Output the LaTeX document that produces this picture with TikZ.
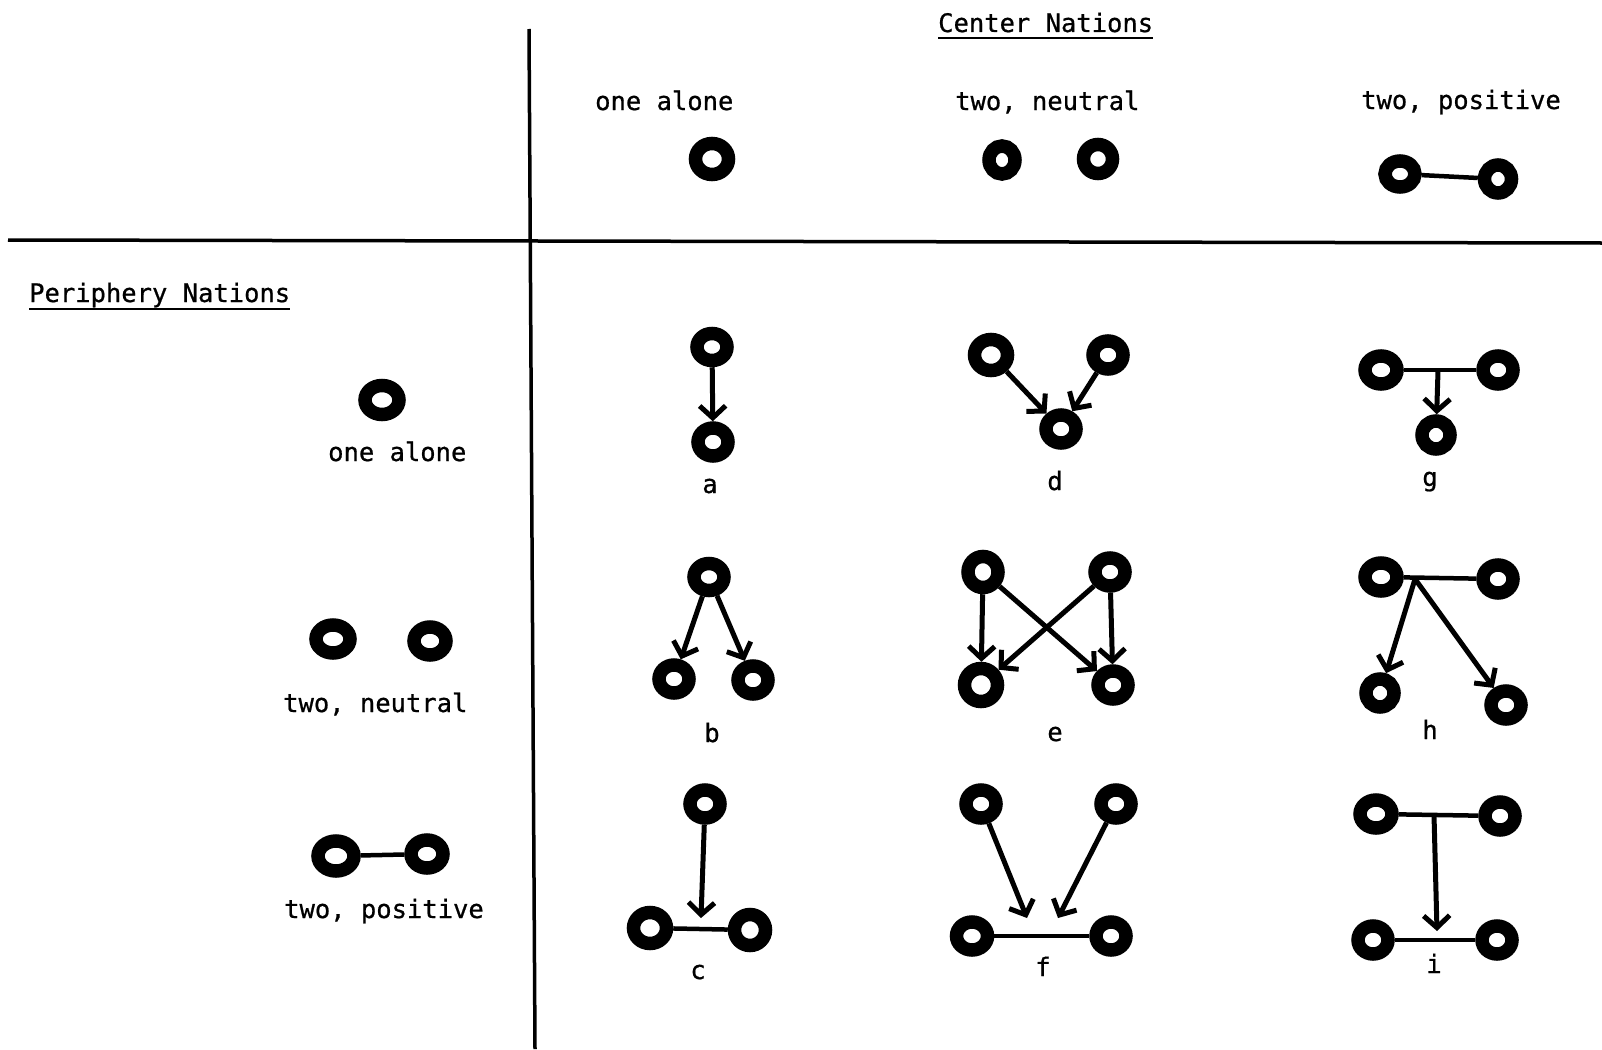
\documentclass[tikz,border=0pt]{standalone}
\usepackage{fontspec}
\setmainfont[FakeBold=0.7]{DejaVu Sans Mono}
\usetikzlibrary{arrows.meta,shapes.geometric,calc}
\begin{document}
\begin{tikzpicture}[x=1pt,y=-1pt,
  ring/.style={ellipse,draw,line width=13.5pt,minimum width=30pt,minimum height=28pt,inner sep=0pt},
  bigring/.style={ring,minimum width=33pt,minimum height=31pt},
  txt/.style={inner sep=0pt,font=\fontsize{25.5}{30}\selectfont},
  tie/.style={line width=4.5pt},
  uline/.style={line width=2.5pt},
  arr/.style={line width=5pt,-{Straight Barb[length=12pt,width=26pt]}},
  axis/.style={line width=3.5pt}]
\useasboundingbox[fill=white] (0,0) rectangle (1602,1049);

% axes
\coordinate (vt) at (529,29); \coordinate (vb) at (535,1049);
\coordinate (hl) at (8,240); \coordinate (hr) at (1602,243);
\draw[axis] (vt) -- (vb);
\draw[axis] (hl) -- (hr);

% column headers
\node[txt,anchor=base west] (cn) at (938,32) {Center Nations};
\draw[uline] ([yshift=-6pt]cn.base west) -- ([yshift=-6pt]cn.base east);
\node[txt,anchor=base west] (ht1) at (595,110) {one alone};
\node[txt,anchor=base west] (ht2) at (955,110) {two, neutral};
\node[txt,anchor=base west] (ht3) at (1361,109) {two, positive};
\node[bigring] (c1) at (712,159) {};
\node[ring,minimum width=26pt,minimum height=28pt] (c2a) at (1002,160) {};
\node[ring,minimum width=29pt,minimum height=29pt] (c2b) at (1098,159) {};
\node[ring,minimum height=26pt] (c3a) at (1400,174) {};
\node[ring,minimum width=27pt] (c3b) at (1498,179) {};
\draw[tie] (c3a) -- (c3b);

% row headers
\node[txt,anchor=base west] (pn) at (29,302) {Periphery Nations};
\draw[uline] ([yshift=-7pt]pn.base west) -- ([yshift=-7pt]pn.base east);
\node[ring,minimum width=34pt,minimum height=29pt] (p1) at (382,400) {};
\node[txt,anchor=base west] (r1) at (328,461) {one alone};
\node[ring,minimum width=34pt] (p2a) at (333,639) {};
\node[ring,minimum width=32pt] (p2b) at (430,641) {};
\node[txt,anchor=base west] (r2) at (283,712) {two, neutral};
\node[ring,minimum width=36pt,minimum height=30pt] (p3a) at (336,856) {};
\node[ring,minimum width=32pt] (p3b) at (427,854) {};
\draw[tie] (p3a) -- (p3b);
\node[txt,anchor=base west] (r3) at (284,918) {two, positive};

% a
\node[ring,minimum height=27pt] (a1) at (712,347) {};
\node[ring] (a2) at (713,442) {};
\draw[arr] (a1) -- (a2);
\node[txt,anchor=base] (la) at (710,493) {a};

% d
\node[bigring] (d1) at (991,355) {};
\node[ring] (d2) at (1108,355) {};
\node[ring] (d3) at (1061,429) {};
\draw[arr] (d1) -- (d3);
\draw[arr] (d2) -- (d3);
\node[txt,anchor=base] (ld) at (1055,490) {d};

% g
\node[ring,minimum width=32pt] (g1) at (1381,370) {};
\node[ring] (g2) at (1498,370) {};
\draw[tie] (g1) -- (g2);
\coordinate (gm) at (1438,371);
\node[ring,minimum width=28pt] (g3) at (1436,435) {};
\draw[arr] (gm) -- (g3);
\node[txt,anchor=base] (lg) at (1430,486) {g};

% b
\node[ring,minimum height=27pt] (b1) at (709,577) {};
\node[ring] (b2) at (674,679) {};
\node[ring] (b3) at (753,680) {};
\draw[arr] (b1) -- (b2);
\draw[arr] (b1) -- (b3);
\node[txt,anchor=base] (lb) at (712,742) {b};

% e
\node[ring,minimum height=31pt] (e1) at (983,572) {};
\node[ring] (e2) at (1110,572) {};
\node[bigring,minimum height=33pt] (e3) at (981,685) {};
\node[ring] (e4) at (1113,685) {};
\draw[arr] (e1) -- (e3);
\draw[arr] (e1) -- (e4);
\draw[arr] (e2) -- (e3);
\draw[arr] (e2) -- (e4);
\node[txt,anchor=base] (le) at (1055,741) {e};

% h
\node[ring,minimum width=32pt] (hA) at (1381,577) {};
\node[ring] (hB) at (1498,579) {};
\draw[tie] (hA) -- (hB);
\coordinate (hm) at (1415,579);
\node[ring,minimum width=28pt] (hC) at (1380,693) {};
\node[ring] (hD) at (1506,705) {};
\draw[arr] (hm) -- (hC);
\draw[arr] (hm) -- (hD);
\node[txt,anchor=base] (lh) at (1430,739) {h};

% c
\node[ring] (cA) at (705,804) {};
\node[bigring] (cB) at (650,928) {};
\node[bigring,minimum width=31pt] (cC) at (750,930) {};
\draw[tie] (cB) -- (cC);
\coordinate (cm) at (701,918);
\draw[arr] (cA) -- (cm);
\node[txt,anchor=base] (lc) at (698,979) {c};

% f
\node[ring] (fA) at (981,804) {};
\node[ring] (fB) at (1116,804) {};
\node[ring,minimum width=31pt] (fC) at (972,936) {};
\node[ring] (fD) at (1111,936) {};
\draw[tie] (fC) -- (fD);
\coordinate (fm1) at (1027,918);
\coordinate (fm2) at (1058,918);
\draw[arr] (fA) -- (fm1);
\draw[arr] (fB) -- (fm2);
\node[txt,anchor=base] (lf) at (1043,976) {f};

% i
\node[ring,minimum width=32pt] (iA) at (1376,814) {};
\node[ring] (iB) at (1500,816) {};
\draw[tie] (iA) -- (iB);
\node[ring] (iC) at (1373,940) {};
\node[ring] (iD) at (1497,940) {};
\draw[tie] (iC) -- (iD);
\coordinate (im1) at (1434,815);
\coordinate (im2) at (1437,931);
\draw[arr] (im1) -- (im2);
\node[txt,anchor=base] (li) at (1434,973) {i};
\end{tikzpicture}
\end{document}
